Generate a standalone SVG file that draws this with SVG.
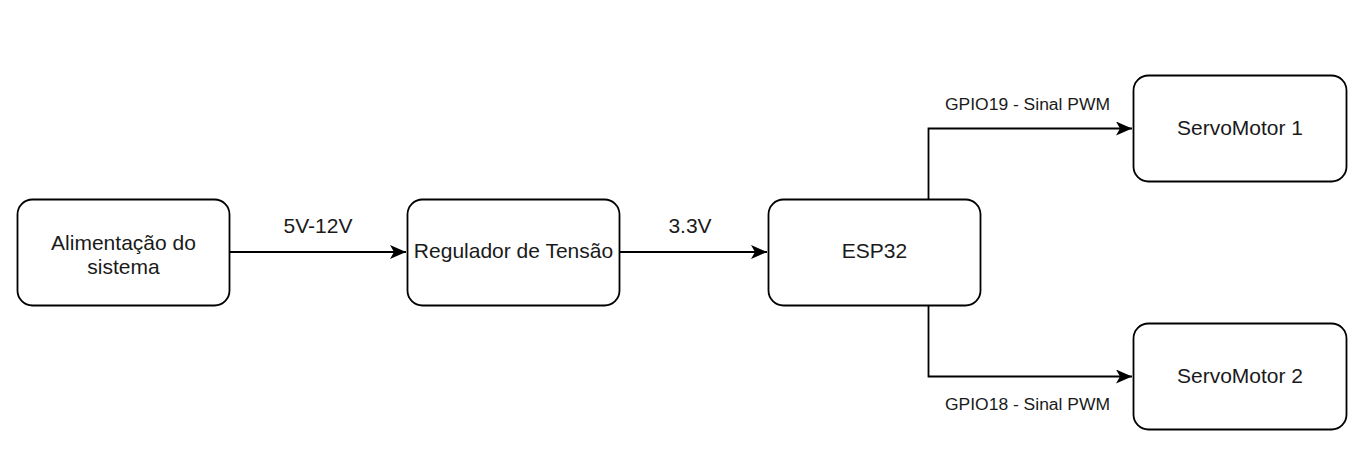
<svg xmlns="http://www.w3.org/2000/svg" width="1371" height="465" viewBox="0 0 1371 465">
<style>
.node rect{fill:#fff;stroke:#000;stroke-width:1.8}
.t{font-family:"Liberation Sans",Arial,sans-serif;font-size:21px;fill:#1a1a1a;text-anchor:middle}
.s{font-family:"Liberation Sans",Arial,sans-serif;font-size:16px;fill:#1a1a1a;text-anchor:middle}
.c{fill:none;stroke:#000;stroke-width:1.8}
</style>
<defs>
<marker id="a" viewBox="0 0 16 14" refX="16" refY="7" markerWidth="16" markerHeight="14" markerUnits="userSpaceOnUse" orient="auto">
<path d="M0,0 L16,7 L0,14 L4,7 Z" fill="#000"/>
</marker>
</defs>
<rect width="1371" height="465" fill="#fff"/>
<g id="connectors">
<path class="c" d="M230,252 H406" marker-end="url(#a)"/>
<path class="c" d="M620,252 H767" marker-end="url(#a)"/>
<path class="c" d="M928.5,199 V128.5 H1132" marker-end="url(#a)"/>
<path class="c" d="M928.5,305 V376.5 H1132" marker-end="url(#a)"/>
<text class="t" x="318" y="233">5V-12V</text>
<text class="t" x="690" y="233">3.3V</text>
<text class="s" x="1027.5" y="110" textLength="165" lengthAdjust="spacingAndGlyphs">GPIO19 - Sinal PWM</text>
<text class="s" x="1027.5" y="410" textLength="165" lengthAdjust="spacingAndGlyphs">GPIO18 - Sinal PWM</text>
</g>
<g id="n1" class="node"><rect x="17.5" y="199.5" width="212" height="106" rx="15"/><text class="t" x="123.5" y="250">Alimentação do</text><text class="t" x="123.5" y="274">sistema</text></g>
<g id="n2" class="node"><rect x="407.5" y="199.5" width="212" height="106" rx="15"/><text class="t" x="513.5" y="258">Regulador de Tensão</text></g>
<g id="n3" class="node"><rect x="768.5" y="199.5" width="212" height="106" rx="15"/><text class="t" x="874.5" y="258">ESP32</text></g>
<g id="n4" class="node"><rect x="1133.5" y="75.5" width="213" height="106" rx="15"/><text class="t" x="1240" y="135">ServoMotor 1</text></g>
<g id="n5" class="node"><rect x="1133.5" y="323.5" width="213" height="106" rx="15"/><text class="t" x="1240" y="383">ServoMotor 2</text></g>
</svg>
